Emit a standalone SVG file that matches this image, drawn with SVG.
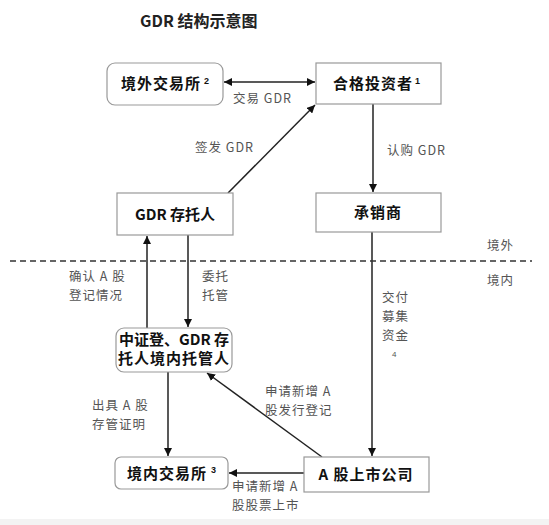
<svg xmlns="http://www.w3.org/2000/svg" width="549" height="525" viewBox="0 0 549 525">
<style>
.box{fill:#fff;stroke:#999;stroke-width:1.2}
.nt{font-family:"Noto Sans CJK SC","Liberation Sans",sans-serif;font-size:15px;font-weight:bold;fill:#111}
.sup{font-family:"Liberation Sans",sans-serif;font-size:9px;font-weight:bold;fill:#111}
.lb{font-family:"Noto Sans CJK SC","Liberation Sans",sans-serif;font-size:12.5px;fill:#555;letter-spacing:1px}
.ln{stroke:#222;stroke-width:1.5;fill:none}
</style>
<defs>
<marker id="ah" viewBox="0 0 10 10" refX="10" refY="5" markerWidth="8" markerHeight="8" markerUnits="userSpaceOnUse" orient="auto-start-reverse">
<path d="M0,0 L10,5 L0,10 z" fill="#111"/>
</marker>
</defs>
<rect x="0" y="0" width="549" height="525" fill="#fff"/>
<rect x="0" y="519" width="549" height="6" fill="#f3f3f3"/>
<text x="140" y="27" font-family="Noto Sans CJK SC,Liberation Sans,sans-serif" font-size="16" font-weight="bold" fill="#222">GDR 结构示意图</text>

<g id="connectors">
<line class="ln" x1="224" y1="82" x2="315" y2="82" marker-start="url(#ah)" marker-end="url(#ah)"/>
<line class="ln" x1="228" y1="193" x2="315" y2="105" marker-end="url(#ah)"/>
<line class="ln" x1="373" y1="104" x2="373" y2="192" marker-end="url(#ah)"/>
<line class="ln" x1="147" y1="328" x2="147" y2="236" marker-end="url(#ah)"/>
<line class="ln" x1="188" y1="235" x2="188" y2="327" marker-end="url(#ah)"/>
<line class="ln" x1="372" y1="232" x2="372" y2="456" marker-end="url(#ah)"/>
<line class="ln" x1="168" y1="372" x2="168" y2="456" marker-end="url(#ah)"/>
<line class="ln" x1="322" y1="457" x2="207" y2="373" marker-end="url(#ah)"/>
<line class="ln" x1="304" y1="473" x2="229" y2="473" marker-end="url(#ah)"/>
<line x1="10" y1="261" x2="532" y2="261" stroke="#333" stroke-width="1.5" stroke-dasharray="6 4"/>
</g>

<g id="n-jwjys">
<rect class="box" x="107" y="63" width="116" height="42" rx="8"/>
<text class="nt" x="121" y="89" letter-spacing="1">境外交易所</text>
<text class="sup" x="204" y="84">2</text>
</g>
<g id="n-hgtzz">
<rect class="box" x="316" y="63" width="125" height="41"/>
<text class="nt" x="333" y="89" letter-spacing="1">合格投资者</text>
<text class="sup" x="415" y="84">1</text>
</g>
<g id="n-gdrctr">
<rect class="box" x="117" y="193" width="116" height="42"/>
<text class="nt" x="175" y="220" text-anchor="middle">GDR 存托人</text>
</g>
<g id="n-cxs">
<rect class="box" x="316" y="193" width="125" height="39"/>
<text class="nt" x="378" y="218" text-anchor="middle" letter-spacing="1">承销商</text>
</g>
<g id="n-zzd">
<rect class="box" x="116" y="328" width="116" height="44" rx="8"/>
<text class="nt" x="174" y="345" text-anchor="middle" font-size="13">中证登、GDR 存</text>
<text class="nt" x="174" y="364" text-anchor="middle" font-size="13" letter-spacing="1">托人境内托管人</text>
</g>
<g id="n-jnjys">
<rect class="box" x="115" y="457" width="113" height="32" rx="6"/>
<text class="nt" x="127" y="479" letter-spacing="1">境内交易所</text>
<text class="sup" x="211" y="473">3</text>
</g>
<g id="n-agss">
<rect class="box" x="304" y="457" width="125" height="35"/>
<text class="nt" x="366" y="480" text-anchor="middle" font-size="16" letter-spacing="1">A 股上市公司</text>
</g>

<g id="labels">
<text class="lb" x="233" y="103">交易 GDR</text>
<text class="lb" x="195" y="152">签发 GDR</text>
<text class="lb" x="387" y="155">认购 GDR</text>
<text class="lb" x="487" y="250">境外</text>
<text class="lb" x="487" y="285">境内</text>
<text class="lb" x="69" y="281">确认 A 股</text>
<text class="lb" x="69" y="300">登记情况</text>
<text class="lb" x="202" y="281">委托</text>
<text class="lb" x="202" y="300">托管</text>
<text class="lb" x="382" y="302">交付</text>
<text class="lb" x="382" y="321">募集</text>
<text class="lb" x="382" y="340">资金</text>
<text x="392" y="357" font-family="Liberation Sans,sans-serif" font-size="8" fill="#555">4</text>
<text class="lb" x="265" y="396">申请新增 A</text>
<text class="lb" x="265" y="415">股发行登记</text>
<text class="lb" x="92" y="410">出具 A 股</text>
<text class="lb" x="92" y="429">存管证明</text>
<text class="lb" x="232" y="491">申请新增 A</text>
<text class="lb" x="232" y="510">股股票上市</text>
</g>
</svg>
